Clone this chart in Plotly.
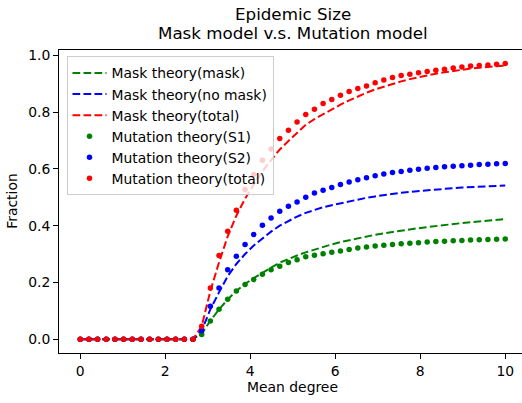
import plotly.graph_objects as go

mean_degree = [0.0, 0.204, 0.408, 0.612, 0.816, 1.02, 1.224, 1.429, 1.633, 1.837,
               2.041, 2.245, 2.449, 2.653, 2.857, 3.061, 3.265, 3.469, 3.673, 3.878,
               4.082, 4.286, 4.49, 4.694, 4.898, 5.102, 5.306, 5.51, 5.714, 5.918,
               6.122, 6.327, 6.531, 6.735, 6.939, 7.143, 7.347, 7.551, 7.755, 7.959,
               8.163, 8.367, 8.571, 8.776, 8.98, 9.184, 9.388, 9.592, 9.796, 10.0]

Z = [0.0] * 14

mask_mask = Z + [0.020, 0.065, 0.105, 0.140, 0.170, 0.195, 0.215, 0.235, 0.252, 0.270,
                 0.283, 0.295, 0.306, 0.316, 0.325, 0.334, 0.342, 0.349, 0.356, 0.362,
                 0.368, 0.373, 0.378, 0.383, 0.387, 0.391, 0.395, 0.399, 0.403, 0.406,
                 0.409, 0.412, 0.415, 0.418, 0.420, 0.423]
mask_nomask = Z + [0.030, 0.105, 0.165, 0.222, 0.265, 0.300, 0.330, 0.356, 0.379, 0.400,
                   0.417, 0.432, 0.445, 0.456, 0.465, 0.472, 0.479, 0.486, 0.492, 0.498,
                   0.503, 0.508, 0.512, 0.516, 0.519, 0.522, 0.525, 0.528, 0.530, 0.532,
                   0.534, 0.536, 0.537, 0.539, 0.540, 0.541]
mask_total = Z + [0.045, 0.170, 0.270, 0.362, 0.435, 0.495, 0.545, 0.591, 0.631, 0.668,
                  0.698, 0.727, 0.755, 0.775, 0.793, 0.810, 0.826, 0.841, 0.855, 0.868,
                  0.880, 0.890, 0.899, 0.908, 0.916, 0.923, 0.929, 0.935, 0.940, 0.945,
                  0.949, 0.953, 0.956, 0.959, 0.962, 0.964]

mut_s1 = Z + [0.017, 0.064, 0.106, 0.141, 0.170, 0.193, 0.210, 0.229, 0.245, 0.257,
              0.270, 0.280, 0.290, 0.296, 0.301, 0.306, 0.311, 0.316, 0.321, 0.325,
              0.328, 0.331, 0.334, 0.336, 0.338, 0.340, 0.342, 0.344, 0.345, 0.347,
              0.348, 0.349, 0.350, 0.351, 0.352, 0.353]
mut_s2 = Z + [0.030, 0.116, 0.180, 0.245, 0.292, 0.334, 0.369, 0.401, 0.427, 0.451,
              0.468, 0.483, 0.500, 0.515, 0.525, 0.534, 0.545, 0.554, 0.562, 0.569,
              0.576, 0.582, 0.587, 0.591, 0.595, 0.599, 0.602, 0.605, 0.607, 0.609,
              0.611, 0.613, 0.615, 0.616, 0.618, 0.619]
mut_total = Z + [0.046, 0.180, 0.295, 0.380, 0.454, 0.527, 0.580, 0.630, 0.670, 0.707,
                 0.736, 0.765, 0.791, 0.810, 0.830, 0.844, 0.859, 0.872, 0.883, 0.892,
                 0.903, 0.913, 0.922, 0.929, 0.933, 0.938, 0.943, 0.947, 0.951, 0.955,
                 0.959, 0.962, 0.964, 0.966, 0.968, 0.971]

x_ticks = [0, 2, 4, 6, 8, 10]
y_ticks = [0.0, 0.2, 0.4, 0.6, 0.8, 1.0]

GREEN, BLUE, RED = "#008000", "#0000ff", "#ff0000"
FONT = "DejaVu Sans"
FS = 13.9
FT = 16.7

fig = go.Figure()
for name, ys, col in [("Mask theory(mask)", mask_mask, GREEN),
                      ("Mask theory(no mask)", mask_nomask, BLUE),
                      ("Mask theory(total)", mask_total, RED)]:
    fig.add_trace(go.Scatter(x=mean_degree, y=ys, mode="lines", name=name,
                             line=dict(color=col, width=2, dash="7.7px,3.3px")))
for name, ys, col in [("Mutation theory(S1)", mut_s1, GREEN),
                      ("Mutation theory(S2)", mut_s2, BLUE),
                      ("Mutation theory(total)", mut_total, RED)]:
    fig.add_trace(go.Scatter(x=mean_degree, y=ys, mode="markers", name=name,
                             marker=dict(color=col, size=5.5, line=dict(width=0))))

# page body margin is removed below, so the figure fills the window exactly
SW, SH = 522, 403
L, T, BOT = 59, 49.5, 353          # plot area edges in pixels
pw = SW - L
ph = BOT - T

fig.update_layout(
    width=SW, height=SH,
    margin=dict(l=L, r=0, t=T, b=SH - BOT, autoexpand=False),
    paper_bgcolor="white", plot_bgcolor="white",
    font=dict(family=FONT, size=FS, color="#000000"),
    showlegend=True,
    legend=dict(x=(66.5 - L) / pw, y=1 - (56 - T) / ph, xanchor="left", yanchor="top",
                bgcolor="rgba(255,255,255,0.8)", bordercolor="#cccccc", borderwidth=1,
                font=dict(family=FONT, size=FS, color="#000000"), itemwidth=34),
    xaxis=dict(range=[-0.5, -0.5 + pw / 42.5], tickvals=x_ticks, automargin=False,
               showline=True, linecolor="black", linewidth=1, mirror=True,
               ticks="outside", ticklen=5, tickwidth=1, tickcolor="black",
               showgrid=False, zeroline=False, tickfont=dict(size=FS)),
    yaxis=dict(range=[-0.0485, 1.0185], tickvals=y_ticks, tickformat=".1f", automargin=False,
               showline=True, linecolor="black", linewidth=1, mirror=False,
               ticks="outside", ticklen=5, tickwidth=1, tickcolor="black",
               showgrid=False, zeroline=False, tickfont=dict(size=FS)),
    annotations=[
        dict(text="Epidemic Size", xref="paper", yref="paper", x=(292.5 - L) / pw,
             y=1 + (T - 13.5) / ph, xanchor="center", yanchor="middle", showarrow=False,
             font=dict(size=FT, family=FONT)),
        dict(text="Mask model v.s. Mutation model", xref="paper", yref="paper", x=(292.5 - L) / pw,
             y=1 + (T - 32.5) / ph, xanchor="center", yanchor="middle", showarrow=False,
             font=dict(size=FT, family=FONT)),
        dict(text="Mean degree", xref="paper", yref="paper", x=(292.5 - L) / pw,
             y=-(387 - BOT) / ph, xanchor="center", yanchor="middle", showarrow=False,
             font=dict(size=FS, family=FONT)),
        dict(text="Fraction", xref="paper", yref="paper", x=(12.5 - L) / pw,
             y=1 - (201 - T) / ph, xanchor="center", yanchor="middle", showarrow=False,
             textangle=-90, font=dict(size=FS, family=FONT)),
    ],
)

fig.write_html("out.html", config={"displayModeBar": False},
               post_script="document.body.style.margin='0';document.body.style.overflow='hidden';")
